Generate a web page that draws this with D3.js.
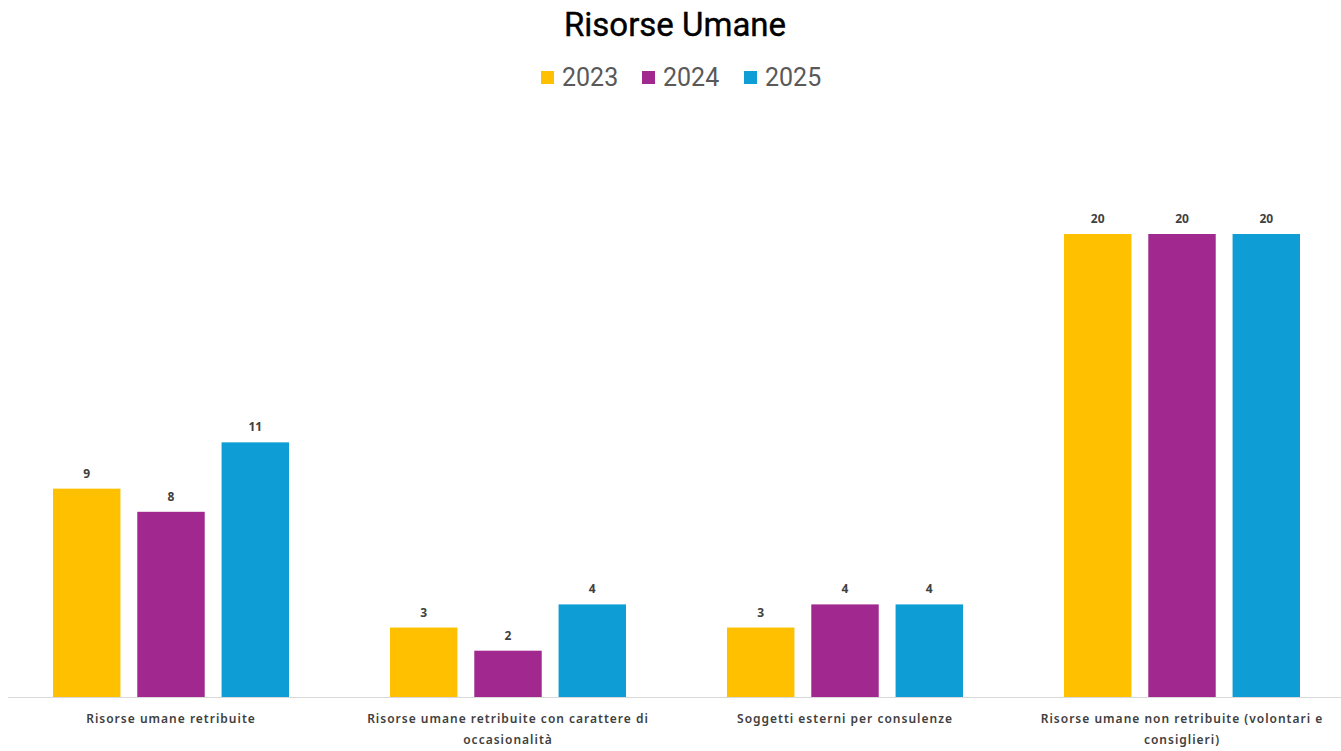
<!DOCTYPE html>
<html>
<head>
<meta charset="utf-8">
<script src="https://cdn.jsdelivr.net/npm/d3@7"></script>
<style>
  body { margin: 0; background: #fff; }
  svg { display: block; }
</style>
</head>
<body>
<div id="chart"></div>
<script>
const categories = [
  "Risorse umane retribuite",
  "Risorse umane retribuite con carattere di occasionalità",
  "Soggetti esterni per consulenze",
  "Risorse umane non retribuite (volontari e consiglieri)"
];
const years = ["2023", "2024", "2025"];
const values2023 = [9, 3, 3, 20];
const values2024 = [8, 2, 4, 20];
const values2025 = [11, 4, 4, 20];
const colors = ["#FFC000", "#A0288F", "#0E9ED5"];

const width = 1341;
const height = 751;
const baseline = 697;

const data = categories.map((c, i) => ({
  category: c,
  values: [values2023[i], values2024[i], values2025[i]]
}));

const svg = d3.select("#chart")
  .append("svg")
  .attr("width", width)
  .attr("height", height);

const x0 = d3.scaleBand()
  .domain(categories)
  .range([2.5, 1350.5])
  .padding(0);

const x1 = d3.scaleBand()
  .domain(years)
  .range([50.5, 286.5])
  .paddingInner(0.2)
  .paddingOuter(0);

const y = d3.scaleLinear()
  .domain([0, 20])
  .range([baseline, 234]);

// title
svg.append("text")
  .attr("x", 675)
  .attr("y", 36)
  .attr("text-anchor", "middle")
  .attr("font-family", "Roboto, 'Noto Sans', sans-serif")
  .attr("font-size", 33)
  .attr("fill", "#000")
  .attr("stroke", "#000")
  .attr("stroke-width", 0.4)
  .text("Risorse Umane");

// legend
const legendX = [541, 642, 744];
const legend = svg.append("g");
years.forEach((yr, i) => {
  legend.append("rect")
    .attr("x", legendX[i])
    .attr("y", 71)
    .attr("width", 13)
    .attr("height", 13)
    .attr("fill", colors[i]);
  legend.append("text")
    .attr("x", legendX[i] + 21)
    .attr("y", 86)
    .attr("font-family", "Roboto, 'Noto Sans', sans-serif")
    .attr("font-size", 25)
    .attr("fill", "#595959")
    .text(yr);
});

// bars
const groups = svg.selectAll(".group")
  .data(data)
  .enter()
  .append("g")
  .attr("class", "group")
  .attr("transform", (d) => `translate(${x0(d.category)},0)`);

groups.selectAll("rect")
  .data((d) => d.values.map((v, i) => ({ year: years[i], value: v, color: colors[i] })))
  .enter()
  .append("rect")
  .attr("x", (d) => x1(d.year))
  .attr("y", (d) => y(d.value))
  .attr("width", x1.bandwidth())
  .attr("height", (d) => baseline - y(d.value))
  .attr("fill", (d) => d.color);

groups.selectAll(".val")
  .data((d) => d.values.map((v, i) => ({ year: years[i], value: v })))
  .enter()
  .append("text")
  .attr("class", "val")
  .attr("x", (d) => x1(d.year) + x1.bandwidth() / 2)
  .attr("y", (d) => y(d.value) - 11)
  .attr("text-anchor", "middle")
  .attr("font-family", "'Noto Sans', sans-serif")
  .attr("font-weight", "bold")
  .attr("font-size", 12)
  .attr("fill", "#404040")
  .text((d) => d.value);

// axis line
svg.append("line")
  .attr("x1", 8)
  .attr("x2", width)
  .attr("y1", baseline + 0.5)
  .attr("y2", baseline + 0.5)
  .attr("stroke", "#D9D9D9")
  .attr("stroke-width", 1);

// category labels with wrapping
function wrap(textSel, maxWidth) {
  textSel.each(function () {
    const text = d3.select(this);
    const words = text.text().split(/\s+/);
    const xPos = text.attr("x");
    text.text(null);
    let line = [];
    let tspan = text.append("tspan").attr("x", xPos).attr("dy", 0);
    words.forEach((w) => {
      line.push(w);
      tspan.text(line.join(" "));
      if (tspan.node().getComputedTextLength() > maxWidth && line.length > 1) {
        line.pop();
        tspan.text(line.join(" "));
        line = [w];
        tspan = text.append("tspan").attr("x", xPos).attr("dy", 21).text(w);
      }
    });
  });
}

svg.append("g")
  .selectAll("text")
  .data(categories)
  .enter()
  .append("text")
  .attr("x", (d) => x0(d) + x0.bandwidth() / 2)
  .attr("y", 723)
  .attr("text-anchor", "middle")
  .attr("font-family", "'Noto Sans', sans-serif")
  .attr("font-weight", 600)
  .attr("font-size", 12)
  .attr("letter-spacing", 1)
  .attr("fill", "#404040")
  .text((d) => d)
  .call(wrap, 300);
</script>
</body>
</html>
